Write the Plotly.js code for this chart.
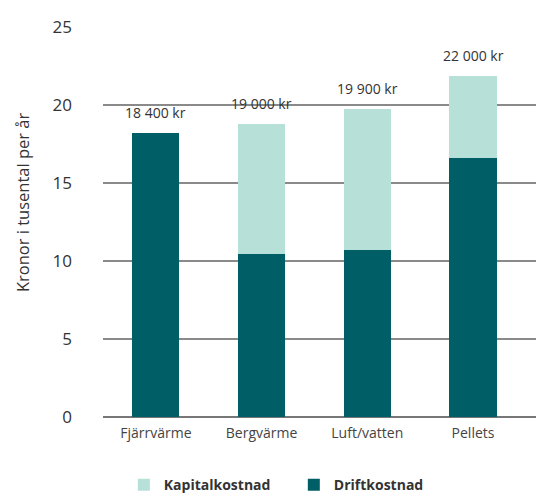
<!DOCTYPE html>
<html><head><meta charset="utf-8">
<script src="https://cdn.plot.ly/plotly-3.0.1.min.js"></script>
<style>html,body{margin:0;padding:0;background:#fff}#chart{width:536px;height:497px}</style>
</head><body><div id="chart"></div>
<script>
const categories = ['Fjärrvärme', 'Bergvärme', 'Luft/vatten', 'Pellets'];
const driftkostnad = [18.2, 10.45, 10.7, 16.6];
const kapitalkostnad = [0, 8.35, 9.05, 5.25];
const totalLabels = ['18 400 kr', '19 000 kr', '19 900 kr', '22 000 kr'];
const yTicks = [0, 5, 10, 15, 20, 25];
const yTitle = 'Kronor i tusental per år';

const FONT = 'Open Sans, Lato, sans-serif';
const traces = [
  {type: 'bar', name: 'Driftkostnad', x: categories, y: driftkostnad,
   marker: {color: '#005F66'}, hoverinfo: 'none'},
  {type: 'bar', name: 'Kapitalkostnad', x: categories, y: kapitalkostnad,
   marker: {color: '#B7E0D8'}, hoverinfo: 'none'}
];
const annotations = categories.map((c, i) => ({
  x: c, y: driftkostnad[i] + kapitalkostnad[i], text: totalLabels[i],
  showarrow: false, yanchor: 'bottom', yshift: 9,
  font: {family: FONT, size: 14, color: '#333'}
}));
annotations.push({
  xref: 'paper', yref: 'paper', x: -81 / 433, y: 0.551, text: yTitle,
  textangle: -90, showarrow: false, xanchor: 'center', yanchor: 'middle',
  font: {family: FONT, size: 16.5, color: '#333'}
});
const layout = {
  width: 536, height: 497,
  margin: {l: 103, r: 0, t: 27, b: 80, autoexpand: false},
  barmode: 'stack', bargap: 0.555,
  paper_bgcolor: '#fff', plot_bgcolor: '#fff',
  font: {family: FONT, color: '#333'},
  xaxis: {range: [-0.5, 3.596], showgrid: false, showline: false, zeroline: false,
          ticks: '', tickfont: {size: 14, color: '#444'}, ticklabelstandoff: 6},
  yaxis: {range: [0, 25], tickvals: yTicks, showgrid: true, gridcolor: '#8a8a8a', gridwidth: 1.3,
          zeroline: true, zerolinecolor: '#777', zerolinewidth: 1.5, showline: false,
          ticks: '', tickfont: {size: 17, color: '#333'}, ticklabelstandoff: 30},
  legend: {orientation: 'h', xref: 'container', x: 0.231, xanchor: 'left',
           yref: 'container', y: 0.056, yanchor: 'top',
           traceorder: 'reversed', font: {size: 14, color: '#333', weight: 'bold'},
           itemwidth: 30, entrywidth: 125, entrywidthmode: 'pixels'},
  annotations: annotations,
  showlegend: true
};
Plotly.newPlot('chart', traces, layout, {displayModeBar: false, staticPlot: true});
</script></body></html>
